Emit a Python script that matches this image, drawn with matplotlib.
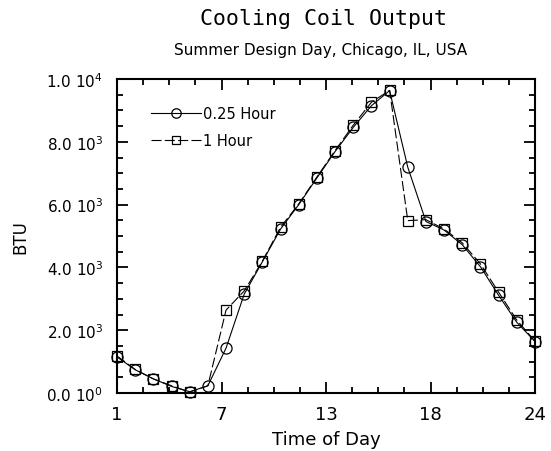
import numpy as np
import matplotlib
matplotlib.use('Agg')
import matplotlib.pyplot as plt

# hora do dia
horas = [1, 2, 3, 4, 5, 6, 7, 8, 9, 10, 11, 12, 13, 14, 15, 16, 17, 18, 19, 20, 21, 22, 23, 24]
# 0.25 Hour (circulos)
btu_q = [1150, 740, 450, 210, 40, 230, 1430, 3150, 4180, 5220, 6000, 6850, 7690, 8460, 9150, 9630,
         7190, 5460, 5190, 4720, 4020, 3110, 2250, 1640]
# 1 Hour (quadrados)
btu_h = [1180, 750, 450, 230, 30, 230, 2640, 3250, 4200, 5280, 6020, 6880, 7720, 8530, 9260, 9640,
         5490, 5520, 5220, 4780, 4110, 3210, 2320, 1650]
# quadrado da hora 6 fica escondido atras do circulo
marcas_h = [i for i in range(len(horas)) if horas[i] != 6]

yticks = [0, 2000, 4000, 6000, 8000, 10000]
ylabels = ['0.0 10$^{0}$', '2.0 10$^{3}$', '4.0 10$^{3}$', '6.0 10$^{3}$', '8.0 10$^{3}$', '1.0 10$^{4}$']
xticks = np.linspace(1, 24, 5)
xlabels = ['1', '7', '13', '18', '24']

fig = plt.figure(figsize=(5.51, 4.52), dpi=100)
ax1 = fig.add_axes([117/551, 1-394/452, 418/551, 314/452])

ax1.plot(horas, btu_q, 'k-', linewidth=0.8, marker='o', markersize=8, mfc='none', mew=0.9,
         label='0.25 Hour', clip_on=False, zorder=3)
ax1.plot(horas, btu_h, color='k', linewidth=0.8, dashes=(9, 3), marker='s', markersize=7.5,
         mfc='none', mew=0.9, markevery=marcas_h, label='1 Hour', clip_on=False, zorder=3)

ax1.set_xlim(1, 24)
ax1.set_ylim(0, 10000)
ax1.set_xticks(xticks)
ax1.set_xticklabels(xlabels, fontsize=13)
ax1.set_xticks(np.linspace(1, 24, 17), minor=True)
ax1.set_yticks(yticks)
ax1.set_yticklabels(ylabels, fontsize=11)
ax1.set_yticks(np.arange(0, 10001, 500), minor=True)
ax1.tick_params(which='both', direction='in', top=True, right=True, width=1.3)
ax1.tick_params(which='major', length=8)
ax1.tick_params(axis='x', which='major', pad=9)
ax1.tick_params(axis='y', which='major', pad=10)
ax1.tick_params(which='minor', length=4)
for s in ax1.spines.values():
    s.set_linewidth(1.5)

ax1.set_xlabel('Time of Day', fontsize=13, labelpad=5)
ax1.set_ylabel('BTU', fontsize=12, labelpad=12)

ax1.legend(loc='upper left', bbox_to_anchor=(0.05, 0.955), frameon=False, fontsize=10.5,
           handlelength=3.4, handletextpad=0.15, labelspacing=0.8, markerscale=0.85)

fig.text(324/551, 1-19/452, 'Cooling Coil Output', ha='center', va='center',
         family='DejaVu Sans Mono', fontsize=15.5)
fig.text(321/551, 1-50/452, 'Summer Design Day, Chicago, IL, USA', ha='center', va='center',
         fontsize=11)

plt.savefig('out.png', dpi=100)
